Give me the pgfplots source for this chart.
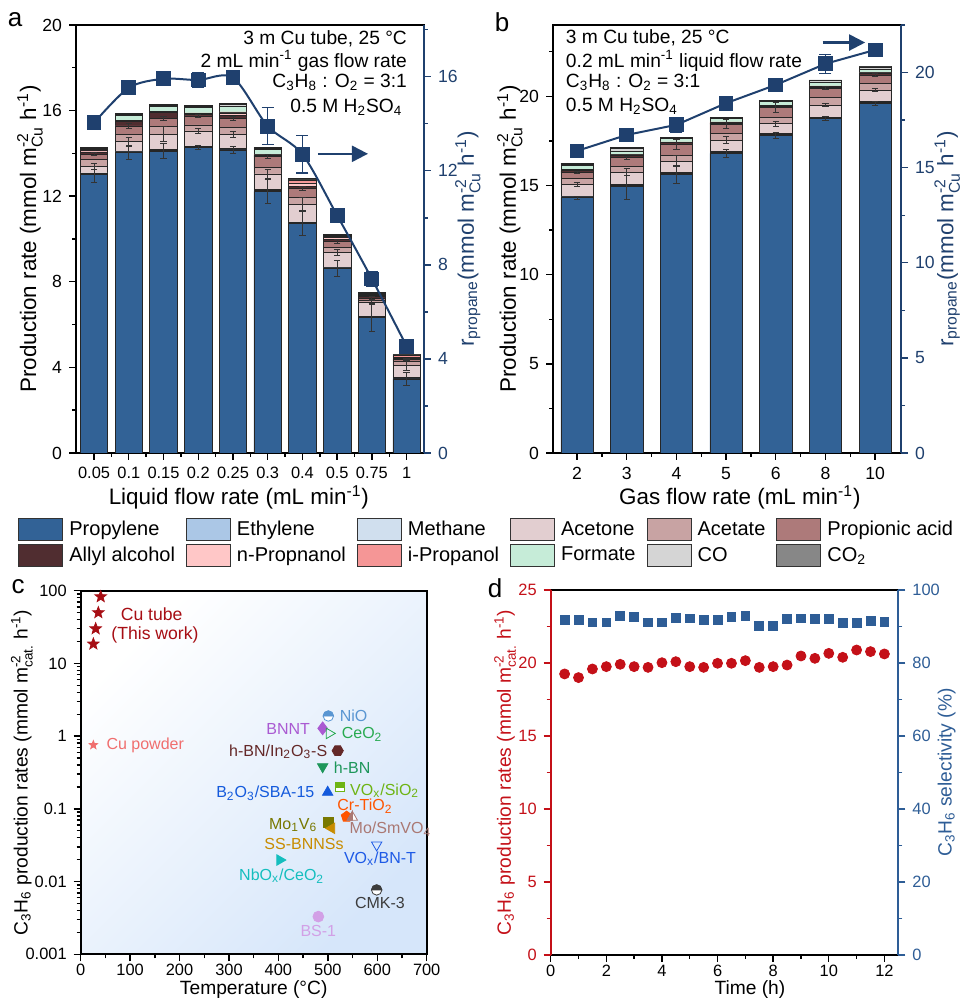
\documentclass[border=0pt]{standalone}
\usepackage{fontspec}
\setmainfont{Liberation Sans}
\usepackage{amsmath}
\usepackage{pgfplots}
\pgfplotsset{compat=1.18}
\usepackage{pgfplotstable}
\usetikzlibrary{arrows.meta,plotmarks}

\definecolor{cP}{RGB}{50,98,150}
\definecolor{cE}{RGB}{171,199,230}
\definecolor{cM}{RGB}{208,223,238}
\definecolor{cAc}{RGB}{226,206,208}
\definecolor{cAt}{RGB}{200,163,163}
\definecolor{cPr}{RGB}{173,122,122}
\definecolor{cAl}{RGB}{80,45,48}
\definecolor{cnP}{RGB}{255,199,199}
\definecolor{ciP}{RGB}{245,150,150}
\definecolor{cF}{RGB}{198,236,216}
\definecolor{cCO}{RGB}{213,213,213}
\definecolor{cCOt}{RGB}{135,135,135}
\definecolor{cN}{RGB}{31,64,110}
\definecolor{cR}{RGB}{196,16,24}
\definecolor{cB}{RGB}{46,93,150}
\definecolor{cBG}{RGB}{214,230,250}

\pgfdeclareplotmark{fstar}{%
 \pgfpathmoveto{\pgfpointpolar{90}{\pgfplotmarksize}}%
 \pgfpathlineto{\pgfpointpolar{126}{0.42*\pgfplotmarksize}}%
 \pgfpathlineto{\pgfpointpolar{162}{\pgfplotmarksize}}%
 \pgfpathlineto{\pgfpointpolar{198}{0.42*\pgfplotmarksize}}%
 \pgfpathlineto{\pgfpointpolar{234}{\pgfplotmarksize}}%
 \pgfpathlineto{\pgfpointpolar{270}{0.42*\pgfplotmarksize}}%
 \pgfpathlineto{\pgfpointpolar{306}{\pgfplotmarksize}}%
 \pgfpathlineto{\pgfpointpolar{342}{0.42*\pgfplotmarksize}}%
 \pgfpathlineto{\pgfpointpolar{18}{\pgfplotmarksize}}%
 \pgfpathlineto{\pgfpointpolar{54}{0.42*\pgfplotmarksize}}%
 \pgfpathclose\pgfusepathqfillstroke}
\pgfdeclareplotmark{halfcirc}{%
 \begin{pgfscope}\pgfsetfillcolor{white}%
 \pgfpathcircle{\pgfpointorigin}{\pgfplotmarksize}\pgfusepathqfillstroke\end{pgfscope}%
 \pgfpathmoveto{\pgfqpoint{\pgfplotmarksize}{0pt}}%
 \pgfpatharc{0}{180}{\pgfplotmarksize}%
 \pgfpathclose\pgfusepathqfillstroke}
\pgfdeclareplotmark{halfsq}{%
 \begin{pgfscope}\pgfsetfillcolor{white}%
 \pgfpathrectanglecorners{\pgfpoint{-\pgfplotmarksize}{-\pgfplotmarksize}}{\pgfpoint{\pgfplotmarksize}{\pgfplotmarksize}}\pgfusepathqfillstroke\end{pgfscope}%
 \pgfpathrectanglecorners{\pgfpoint{-\pgfplotmarksize}{0pt}}{\pgfpoint{\pgfplotmarksize}{\pgfplotmarksize}}\pgfusepathqfillstroke}
\pgfdeclareplotmark{halftri}{%
 \begin{pgfscope}\pgfsetfillcolor{white}%
 \pgfpathmoveto{\pgfpointpolar{90}{\pgfplotmarksize}}%
 \pgfpathlineto{\pgfpointpolar{210}{\pgfplotmarksize}}%
 \pgfpathlineto{\pgfpointpolar{330}{\pgfplotmarksize}}%
 \pgfpathclose\pgfusepathqfillstroke\end{pgfscope}%
 \pgfpathmoveto{\pgfpointpolar{90}{\pgfplotmarksize}}%
 \pgfpathlineto{\pgfpointpolar{210}{\pgfplotmarksize}}%
 \pgfpathlineto{\pgfpoint{0pt}{-0.5*\pgfplotmarksize}}%
 \pgfpathclose\pgfusepathqfillstroke}
\pgfdeclareplotmark{hexa}{%
 \pgfpathmoveto{\pgfpointpolar{0}{\pgfplotmarksize}}%
 \pgfpathlineto{\pgfpointpolar{60}{\pgfplotmarksize}}%
 \pgfpathlineto{\pgfpointpolar{120}{\pgfplotmarksize}}%
 \pgfpathlineto{\pgfpointpolar{180}{\pgfplotmarksize}}%
 \pgfpathlineto{\pgfpointpolar{240}{\pgfplotmarksize}}%
 \pgfpathlineto{\pgfpointpolar{300}{\pgfplotmarksize}}%
 \pgfpathclose\pgfusepathqfillstroke}

\pgfplotstableread{
x P E M Ac At Pr Al nP iP F CO CO2
0 13.02 0.04 0.03 0.30 0.32 0.26 0.10 0.05 0.03 0.05 0.05 0.03
1 14.03 0.04 0.03 0.45 0.34 0.39 0.20 0.05 0.03 0.20 0.06 0.05
2 14.11 0.04 0.03 0.71 0.36 0.39 0.26 0.05 0.03 0.20 0.06 0.05
3 14.28 0.04 0.03 0.70 0.28 0.42 0.09 0.03 0.02 0.26 0.05 0.03
4 14.16 0.04 0.03 0.66 0.31 0.44 0.15 0.10 0.05 0.24 0.10 0.07
5 12.23 0.04 0.03 0.74 0.29 0.52 0.06 0.02 0.02 0.24 0.05 0.03
6 10.73 0.04 0.03 0.82 0.31 0.44 0.10 0.15 0.12 0.02 0.03 0.05
7 8.61 0.04 0.03 0.68 0.25 0.27 0.08 0.10 0.05 0.02 0.05 0.05
8 6.34 0.03 0.03 0.62 0.12 0.10 0.06 0.06 0.04 0.01 0.03 0.05
9 3.46 0.03 0.03 0.59 0.16 0.11 0.02 0.06 0.10 0.01 0.01 0.01
}\tabA
\pgfplotstableread{
x y e
0 13.02 0.36
1 14.03 0.31
2 14.11 0.36
3 14.28 0.10
4 14.16 0.15
5 12.23 0.55
6 10.73 0.58
7 8.61 0.37
8 6.34 0.65
9 3.46 0.31
0 13.39 0.12
1 14.55 0.20
2 14.89 0.35
3 15.05 0.10
4 14.89 0.15
5 13.04 0.20
6 11.62 0.30
7 9.36 0.15
8 7.02 0.10
9 4.11 0.25
0 13.97 0.08
1 15.28 0.10
2 15.64 0.10
3 15.75 0.08
4 15.64 0.10
5 13.85 0.08
6 12.37 0.10
7 9.88 0.08
8 7.24 0.06
9 4.38 0.06
}\errA
\pgfplotstableread{
x r e
0 14.04 0.10
1 15.53 0.15
2 15.91 0.10
3 15.86 0.33
4 15.96 0.10
5 13.90 0.78
6 12.70 0.80
7 10.10 0.10
8 7.40 0.30
9 4.54 0.27
}\linA
\pgfplotstableread{
x P E M Ac At Pr Al nP iP F CO CO2
0 14.31 0.05 0.04 0.66 0.32 0.33 0.12 0.03 0.02 0.23 0.08 0.05
1 14.96 0.05 0.04 0.70 0.33 0.47 0.12 0.04 0.02 0.20 0.17 0.05
2 15.62 0.05 0.04 0.66 0.32 0.61 0.10 0.02 0.02 0.22 0.03 0.02
3 16.80 0.05 0.04 0.65 0.36 0.53 0.08 0.03 0.02 0.20 0.02 0.02
4 17.81 0.05 0.04 0.56 0.38 0.53 0.08 0.03 0.02 0.20 0.03 0.03
5 18.75 0.05 0.04 0.67 0.42 0.52 0.08 0.03 0.02 0.22 0.07 0.05
6 19.59 0.08 0.06 0.62 0.36 0.47 0.10 0.03 0.02 0.17 0.15 0.03
}\tabB
\pgfplotstableread{
x y e
0 14.31 0.10
1 14.96 0.75
2 15.62 0.50
3 16.80 0.25
4 17.81 0.15
5 18.75 0.12
6 19.59 0.10
0 15.06 0.10
1 15.75 0.20
2 16.37 0.30
3 17.54 0.20
4 18.46 0.15
5 19.51 0.10
6 20.35 0.10
0 15.71 0.06
1 16.55 0.08
2 17.30 0.30
3 18.43 0.25
4 19.37 0.30
5 20.45 0.08
6 21.18 0.08
}\errB
\pgfplotstableread{
x r e
0 15.88 0.30
1 16.72 0.15
2 17.25 0.40
3 18.39 0.15
4 19.35 0.15
5 20.46 0.50
6 21.19 0.35
}\linB

\pgfplotsset{
  base/.style={scale only axis, anchor=south west, tick align=outside,
    major tick length=3.5pt, minor tick length=2pt,
    every tick/.style={black, line width=0.7pt},
    axis line style={line width=0.9pt},
    /pgf/number format/assume math mode=true},
  barstyle/.style={draw=black!85, line width=0.35pt},
  errstyle/.style={draw=none, mark=none,
    error bars/.cd, y dir=both, y explicit,
    error bar style={draw=black!80, line width=0.4pt},
    error mark options={rotate=90, mark size=1.6pt, draw=black!80, line width=0.4pt}},
}

\begin{document}
\begin{tikzpicture}
\useasboundingbox (0,0) rectangle (481pt,499.5pt);

% ================= Panel a =================
\begin{axis}[base,
  at={(38pt,273pt)}, width=174pt, height=214pt,
  ybar stacked, bar width=0.79,
  xmin=-0.52, xmax=9.5, ymin=0, ymax=20,
  xtick={0,...,9}, xticklabels={0.05,0.1,0.15,0.2,0.25,0.3,0.4,0.5,0.75,1},
  minor xtick={0.5,1.5,...,8.5},
  ytick={0,4,...,20}, minor ytick={2,6,...,18},
  xtick pos=bottom, ytick pos=left,
  x tick label style={font=\fontsize{8.2}{9}\selectfont},
  y tick label style={font=\fontsize{8.8}{9}\selectfont},
  xlabel={Liquid flow rate (mL min\textsuperscript{-1})},
  ylabel={Production rate (mmol m$^{\text{-2}}_{\text{Cu}}$ h\textsuperscript{-1})},
  label style={font=\fontsize{11.2}{12}\selectfont},
  xlabel style={at={(axis description cs:0.468,-0.103)}, anchor=center},
  ylabel style={at={(axis description cs:-0.132,0.5)}, anchor=center},
  legend columns=6,
  legend cell align=left,
  legend style={at={(-0.1667,-0.152)}, anchor=north west, draw=none, fill=none,
    inner sep=0pt, font=\fontsize{10}{11}\selectfont, row sep=1.3pt,
    nodes={inner sep=0pt, text depth=0.15em},
    /tikz/every odd column/.append style={column sep=3pt},
    /tikz/every even column/.append style={column sep=5.5pt}},
  legend image code/.code={\draw[#1,/tikz/.cd,draw=black!80,line width=0.5pt] (0pt,-5.5pt) rectangle (22pt,5.5pt);},
]
\addplot[barstyle, fill=cP] table[x=x,y=P]{\tabA};
\addplot[barstyle, fill=cE] table[x=x,y=E]{\tabA};
\addplot[barstyle, fill=cM] table[x=x,y=M]{\tabA};
\addplot[barstyle, fill=cAc] table[x=x,y=Ac]{\tabA};
\addplot[barstyle, fill=cAt] table[x=x,y=At]{\tabA};
\addplot[barstyle, fill=cPr] table[x=x,y=Pr]{\tabA};
\addplot[barstyle, fill=cAl] table[x=x,y=Al]{\tabA};
\addplot[barstyle, fill=cnP] table[x=x,y=nP]{\tabA};
\addplot[barstyle, fill=ciP] table[x=x,y=iP]{\tabA};
\addplot[barstyle, fill=cF] table[x=x,y=F]{\tabA};
\addplot[barstyle, fill=cCO] table[x=x,y=CO]{\tabA};
\addplot[barstyle, fill=cCOt] table[x=x,y=CO2]{\tabA};
\legend{Propylene, Ethylene, Methane, Acetone, Acetate, Propionic acid,
  Allyl alcohol, n-Propnanol, i-Propanol, Formate, CO, CO\textsubscript{2}}
\node[anchor=east, font=\fontsize{9.6}{10}\selectfont] at (rel axis cs:0.971,0.967) {3 m Cu tube, 25 °C};
\node[anchor=east, font=\fontsize{9.6}{10}\selectfont] at (rel axis cs:0.971,0.916) {2 mL min\textsuperscript{-1} gas flow rate};
\node[anchor=east, font=\fontsize{9.6}{10}\selectfont] at (rel axis cs:0.971,0.867) {C\textsubscript{3}H\textsubscript{8} : O\textsubscript{2} = 3:1};
\node[anchor=east, font=\fontsize{9.6}{10}\selectfont] at (rel axis cs:0.958,0.808) {0.5 M H\textsubscript{2}SO\textsubscript{4}};
\end{axis}
\begin{axis}[base, at={(38pt,273pt)}, width=174pt, height=214pt,
  xmin=-0.52, xmax=9.5, ymin=0, ymax=20, hide axis]
\addplot[errstyle] table[x=x,y=y,y error=e]{\errA};
\end{axis}
\begin{axis}[base, at={(38pt,273pt)}, width=174pt, height=214pt,
  xmin=-0.52, xmax=9.5, ymin=0, ymax=18.2,
  axis x line=none, axis y line*=right,
  ytick={0,4,...,16}, minor ytick={2,6,...,18},
  y axis line style={cN, line width=0.9pt},
  every tick/.style={cN, line width=0.7pt},
  y tick label style={cN, font=\fontsize{8.8}{9}\selectfont},
  ylabel={r\textsubscript{propane}(mmol m$^{\text{-2}}_{\text{Cu}}$ h\textsuperscript{-1})},
  ylabel style={cN, font=\fontsize{11.2}{12}\selectfont, at={(axis description cs:1.126,0.5)}, anchor=center},
]
\addplot[cN, line width=1pt, smooth, mark=square*, mark size=3.2pt,
  error bars/.cd, y dir=both, y explicit,
  error bar style={cN, line width=0.7pt},
  error mark options={rotate=90, mark size=3pt, cN, line width=0.7pt}]
  table[x=x,y=r,y error=e]{\linA};
\draw[cN, line width=1.1pt, -{Triangle[length=8pt,width=8pt]}] (rel axis cs:0.695,0.699) -- (rel axis cs:0.839,0.699);
\end{axis}

% ================= Panel b =================
\begin{axis}[base,
  at={(276.5pt,273pt)}, width=174pt, height=214pt,
  ybar stacked, bar width=0.65,
  xmin=-0.483, xmax=6.52, ymin=0, ymax=24,
  xtick={0,...,6}, xticklabels={2,3,4,5,6,8,10},
  minor xtick={0.5,1.5,...,5.5},
  ytick={0,5,...,20}, minor ytick={2.5,7.5,...,22.5},
  xtick pos=bottom, ytick pos=left,
  x tick label style={font=\fontsize{8.8}{9}\selectfont},
  y tick label style={font=\fontsize{8.8}{9}\selectfont},
  xlabel={Gas flow rate (mL min\textsuperscript{-1})},
  ylabel={Production rate (mmol m$^{\text{-2}}_{\text{Cu}}$ h\textsuperscript{-1})},
  label style={font=\fontsize{11.2}{12}\selectfont},
  xlabel style={at={(axis description cs:0.537,-0.103)}, anchor=center},
  ylabel style={at={(axis description cs:-0.124,0.5)}, anchor=center},
]
\addplot[barstyle, fill=cP] table[x=x,y=P]{\tabB};
\addplot[barstyle, fill=cE] table[x=x,y=E]{\tabB};
\addplot[barstyle, fill=cM] table[x=x,y=M]{\tabB};
\addplot[barstyle, fill=cAc] table[x=x,y=Ac]{\tabB};
\addplot[barstyle, fill=cAt] table[x=x,y=At]{\tabB};
\addplot[barstyle, fill=cPr] table[x=x,y=Pr]{\tabB};
\addplot[barstyle, fill=cAl] table[x=x,y=Al]{\tabB};
\addplot[barstyle, fill=cnP] table[x=x,y=nP]{\tabB};
\addplot[barstyle, fill=ciP] table[x=x,y=iP]{\tabB};
\addplot[barstyle, fill=cF] table[x=x,y=F]{\tabB};
\addplot[barstyle, fill=cCO] table[x=x,y=CO]{\tabB};
\addplot[barstyle, fill=cCOt] table[x=x,y=CO2]{\tabB};
\node[anchor=west, font=\fontsize{9.6}{10}\selectfont] at (rel axis cs:0.017,0.970) {3 m Cu tube, 25 °C};
\node[anchor=west, font=\fontsize{9.6}{10}\selectfont] at (rel axis cs:0.017,0.916) {0.2 mL min\textsuperscript{-1} liquid flow rate};
\node[anchor=west, font=\fontsize{9.6}{10}\selectfont] at (rel axis cs:0.017,0.867) {C\textsubscript{3}H\textsubscript{8} : O\textsubscript{2} = 3:1};
\node[anchor=west, font=\fontsize{9.6}{10}\selectfont] at (rel axis cs:0.017,0.811) {0.5 M H\textsubscript{2}SO\textsubscript{4}};
\end{axis}
\begin{axis}[base, at={(276.5pt,273pt)}, width=174pt, height=214pt,
  xmin=-0.483, xmax=6.52, ymin=0, ymax=24, hide axis]
\addplot[errstyle] table[x=x,y=y,y error=e]{\errB};
\end{axis}
\begin{axis}[base, at={(276.5pt,273pt)}, width=174pt, height=214pt,
  xmin=-0.483, xmax=6.52, ymin=0, ymax=22.5,
  axis x line=none, axis y line*=right,
  ytick={0,5,...,20}, minor ytick={2.5,7.5,...,22.5},
  y axis line style={cN, line width=0.9pt},
  every tick/.style={cN, line width=0.7pt},
  y tick label style={cN, font=\fontsize{8.8}{9}\selectfont},
  ylabel={r\textsubscript{propane}(mmol m$^{\text{-2}}_{\text{Cu}}$ h\textsuperscript{-1})},
  ylabel style={cN, font=\fontsize{11.2}{12}\selectfont, at={(axis description cs:1.133,0.5)}, anchor=center},
]
\addplot[cN, line width=1pt, mark=square*, mark size=3.2pt,
  error bars/.cd, y dir=both, y explicit,
  error bar style={cN, line width=0.7pt},
  error mark options={rotate=90, mark size=3pt, cN, line width=0.7pt}]
  table[x=x,y=r,y error=e]{\linB};
\draw[cN, line width=1.1pt, -{Triangle[length=8pt,width=8pt]}] (rel axis cs:0.775,0.959) -- (rel axis cs:0.897,0.959);
\end{axis}

% ================= Panel c =================
\begin{axis}[base,
  at={(40.35pt,22.35pt)}, width=173pt, height=181.8pt,
  ymode=log, xmin=0, xmax=700, ymin=0.001, ymax=100,
  clip=false,
  xtick={0,100,...,700}, minor xtick={50,150,...,650},
  ytick={0.001,0.01,0.1,1,10,100}, yticklabels={0.001,0.01,0.1,1,10,100},
  xtick pos=bottom, ytick pos=left,
  axis background/.style={top color=white, bottom color=cBG, shading angle=45},
  tick label style={font=\fontsize{8.2}{9}\selectfont},
  x tick label style={yshift=2pt},
  xlabel={Temperature (°C)},
  ylabel={C\textsubscript{3}H\textsubscript{6} production rates (mmol m$^{\text{-2}}_{\text{cat.}}$ h\textsuperscript{-1})},
  label style={font=\fontsize{9.6}{11}\selectfont},
  xlabel style={at={(axis description cs:0.5,-0.096)}, anchor=center},
  ylabel style={at={(axis description cs:-0.17,0.5)}, anchor=center},
]
\addplot[only marks, mark=fstar, color=cR!85!black, fill=cR!85!black, mark size=3pt] coordinates {(40.5,82.7) (35.7,49.9) (30.3,30) (25.6,18.5)};
\addplot[only marks, mark=fstar, color={rgb,255:red,240;green,110;blue,110}, mark size=2.2pt] coordinates {(25.6,0.755)};
\addplot[only marks, mark=halfcirc, color={rgb,255:red,90;green,150;blue,210}, mark size=2.6pt] coordinates {(501,1.89)};
\addplot[only marks, mark=diamond*, color={rgb,255:red,170;green,90;blue,210}, mark size=3.2pt] coordinates {(489.5,1.28)};
\addplot[only marks, mark=triangle, mark options={rotate=-90}, color={rgb,255:red,40;green,170;blue,80}, mark size=3pt] coordinates {(503,1.09)};
\addplot[only marks, mark=hexa, color={rgb,255:red,100;green,40;blue,40}, mark size=2.8pt] coordinates {(520,0.63)};
\addplot[only marks, mark=triangle*, mark options={rotate=180}, color={rgb,255:red,30;green,150;blue,90}, mark size=3pt] coordinates {(489.5,0.38)};
\addplot[only marks, mark=triangle*, color={rgb,255:red,20;green,90;blue,220}, mark size=3pt] coordinates {(499.7,0.169)};
\addplot[only marks, mark=halfsq, color={rgb,255:red,110;green,180;blue,20}, mark size=2.3pt] coordinates {(524.6,0.198)};
\addplot[only marks, mark=pentagon*, color={rgb,255:red,255;green,85;blue,0}, mark size=2.8pt] coordinates {(538,0.078)};
\addplot[only marks, mark=halftri, color={rgb,255:red,170;green,120;blue,115}, mark size=3pt] coordinates {(549.6,0.0765)};
\addplot[only marks, mark=square*, color={rgb,255:red,120;green,120;blue,0}, mark size=2.3pt] coordinates {(501,0.065)};
\addplot[only marks, mark=triangle*, mark options={rotate=90}, color={rgb,255:red,200;green,140;blue,0}, mark size=3pt] coordinates {(507.8,0.054)};
\addplot[only marks, mark=triangle, mark options={rotate=180}, color={rgb,255:red,30;green,90;blue,230}, mark size=3pt] coordinates {(598.8,0.0319)};
\addplot[only marks, mark=triangle*, mark options={rotate=-90}, color={rgb,255:red,20;green,190;blue,190}, mark size=3pt] coordinates {(403,0.0198)};
\addplot[only marks, mark=halfcirc, color={rgb,255:red,60;green,60;blue,60}, mark size=2.6pt] coordinates {(598.8,0.00767)};
\addplot[only marks, mark=*, color={rgb,255:red,210;green,160;blue,230}, mark size=2.7pt] coordinates {(480.8,0.0033)};
\begin{scope}[font=\fontsize{8}{9}\selectfont]
\node[text=cR!85!black, font=\fontsize{8.8}{10}\selectfont] at (axis cs:143.6,47.8) {Cu tube};
\node[text=cR!85!black, font=\fontsize{8.8}{10}\selectfont] at (axis cs:150.3,24.6) {(This work)};
\node[anchor=west, text={rgb,255:red,240;green,110;blue,110}] at (axis cs:38,0.755) {Cu powder};
\node[anchor=west, text={rgb,255:red,90;green,150;blue,210}] at (axis cs:510,1.89) {NiO};
\node[anchor=east, text={rgb,255:red,170;green,90;blue,210}] at (axis cs:478,1.24) {BNNT};
\node[anchor=west, text={rgb,255:red,40;green,170;blue,80}] at (axis cs:514,1.07) {CeO\textsubscript{2}};
\node[anchor=east, text={rgb,255:red,100;green,40;blue,40}] at (axis cs:513,0.611) {h-BN/In\textsubscript{2}O\textsubscript{3}-S};
\node[anchor=west, text={rgb,255:red,30;green,150;blue,90}] at (axis cs:498,0.373) {h-BN};
\node[anchor=east, text={rgb,255:red,20;green,90;blue,220}] at (axis cs:487,0.1637) {B\textsubscript{2}O\textsubscript{3}/SBA-15};
\node[anchor=west, text={rgb,255:red,110;green,180;blue,20}] at (axis cs:531,0.178) {VO\textsubscript{x}/SiO\textsubscript{2}};
\node[anchor=west, text={rgb,255:red,255;green,85;blue,0}] at (axis cs:505,0.108) {Cr-TiO\textsubscript{2}};
\node[anchor=east, text={rgb,255:red,120;green,120;blue,0}] at (axis cs:493,0.06) {Mo\textsubscript{1}V\textsubscript{6}};
\node[anchor=west, text={rgb,255:red,170;green,120;blue,115}] at (axis cs:530,0.0528) {Mo/SmVO\textsubscript{4}};
\node[text={rgb,255:red,200;green,140;blue,0}] at (axis cs:451.8,0.0326) {SS-BNNSs};
\node[text={rgb,255:red,30;green,90;blue,230}] at (axis cs:605.5,0.0209) {VO\textsubscript{x}/BN-T};
\node[text={rgb,255:red,20;green,190;blue,190}] at (axis cs:406.6,0.0119) {NbO\textsubscript{x}/CeO\textsubscript{2}};
\node[text={rgb,255:red,60;green,60;blue,60}] at (axis cs:605.5,0.00503) {CMK-3};
\node[text={rgb,255:red,210;green,160;blue,230}] at (axis cs:480.7,0.00211) {BS-1};
\end{scope}
\end{axis}

% ================= Panel d =================
\begin{axis}[base,
  at={(275.35pt,22pt)}, width=173.8pt, height=182.5pt,
  xmin=0, xmax=12.5, ymin=0, ymax=25,
  xtick={0,2,...,12}, minor xtick={1,3,...,11},
  ytick={0,5,...,25}, minor ytick={2.5,7.5,...,22.5},
  xtick pos=bottom, ytick pos=left,
  separate axis lines,
  y axis line style={cR, line width=0.9pt},
  every y tick/.append style={cR},
  every minor y tick/.append style={cR},
  tick label style={font=\fontsize{8.2}{9}\selectfont},
  x tick label style={yshift=2pt},
  y tick label style={cR},
  xlabel={Time (h)},
  ylabel={C\textsubscript{3}H\textsubscript{6} production rates (mmol m$^{\text{-2}}_{\text{cat.}}$ h\textsuperscript{-1})},
  label style={font=\fontsize{9.6}{11}\selectfont},
  xlabel style={at={(axis description cs:0.573,-0.094)}, anchor=center},
  ylabel style={cR, at={(axis description cs:-0.131,0.5)}, anchor=center},
]
\addplot[only marks, mark=*, color=cR, mark size=2.5pt] coordinates {
(0.5,19.25) (1,19.0) (1.5,19.59) (2,19.75) (2.5,19.91) (3,19.75) (3.5,19.70) (4,20.02)
(4.5,20.09) (5,19.75) (5.5,19.70) (6,19.98) (6.5,19.98) (7,20.16) (7.5,19.70) (8,19.75)
(8.5,19.86) (9,20.48) (9.5,20.32) (10,20.66) (10.5,20.39) (11,20.89) (11.5,20.78) (12,20.62)};
\end{axis}
\begin{axis}[base,
  at={(275.35pt,22pt)}, width=173.8pt, height=182.5pt,
  xmin=0, xmax=12.5, ymin=0, ymax=100,
  axis x line=none, axis y line*=right,
  ytick={0,20,...,100}, minor ytick={10,30,...,90},
  y axis line style={cB, line width=0.9pt},
  every tick/.style={cB, line width=0.7pt},
  y tick label style={cB, font=\fontsize{8.2}{9}\selectfont},
  ylabel={C\textsubscript{3}H\textsubscript{6} selectivity (\%)},
  ylabel style={cB, font=\fontsize{9.6}{11}\selectfont, at={(axis description cs:1.139,0.5)}, anchor=center},
]
\addplot[only marks, mark=square*, color=cB, mark size=2.2pt] coordinates {
(0.5,91.8) (1,91.8) (1.5,91.1) (2,91.1) (2.5,92.9) (3,92.7) (3.5,91.1) (4,91.1)
(4.5,92.4) (5,92.2) (5.5,91.8) (6,91.8) (6.5,92.7) (7,92.9) (7.5,90.1) (8,90.1)
(8.5,92.0) (9,92.2) (9.5,92.0) (10,92.1) (10.5,90.9) (11,90.9) (11.5,91.5) (12,91.3)};
\end{axis}

\node[font=\fontsize{13}{13}\selectfont] at (7.5pt,489.5pt) {a};
\node[font=\fontsize{13}{13}\selectfont] at (251pt,488.5pt) {b};
\node[font=\fontsize{13}{13}\selectfont] at (9pt,206pt) {c};
\node[font=\fontsize{13}{13}\selectfont] at (247.5pt,205.5pt) {d};
\end{tikzpicture}
\end{document}
